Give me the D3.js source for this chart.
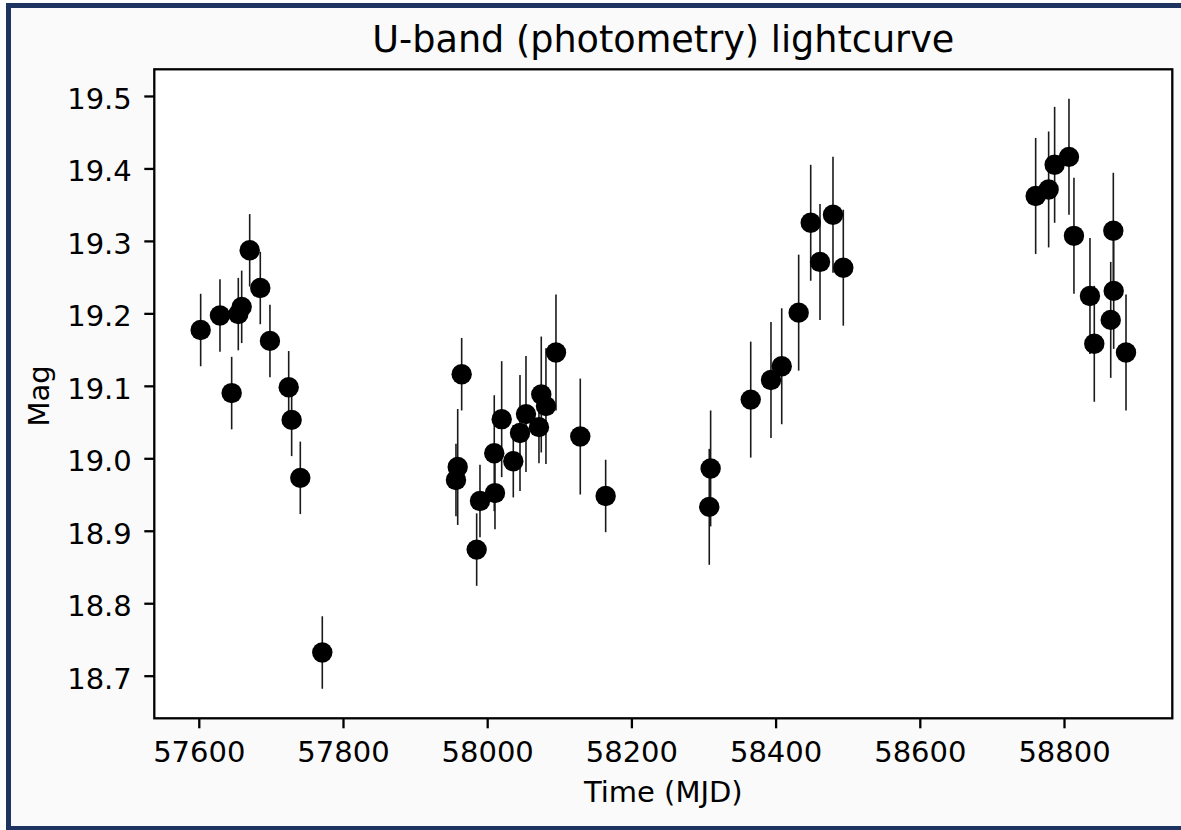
<!DOCTYPE html>
<html>
<head>
<meta charset="utf-8">
<script src="https://cdn.jsdelivr.net/npm/d3@7"></script>
<style>
  html, body { margin: 0; padding: 0; background: #ffffff; overflow: hidden; }
  svg { display: block; }
  text { font-family: "DejaVu Sans", sans-serif; fill: #000; }
</style>
</head>
<body>
<svg id="chart" width="1181" height="830"></svg>
<script>
// U-band photometry: epoch (MJD), magnitude and 1-sigma uncertainty
const mjd = [
  57602.6, 57629.4, 57645.6, 57654.8, 57659.5, 57670.6, 57685.3, 57698.7,
  57724.7, 57728.8, 57740.8, 57771.3,
  57956.7, 57959.1, 57964.6, 57985.4, 57990.0, 58009.8, 58010.8, 58020.1,
  58036.2, 58045.5, 58053.8, 58071.8, 58075.0, 58081.5, 58095.4, 58129.1,
  58164.3,
  58308.0, 58309.9, 58365.5, 58393.6, 58408.5, 58432.0, 58448.7, 58461.6,
  58479.6, 58493.9,
  58760.7, 58778.7, 58787.0, 58806.9, 58813.8, 58836.0, 58842.0, 58864.8,
  58868.4, 58868.9, 58886.0
];
const mag = [
  19.177, 19.197, 19.090, 19.199, 19.209, 19.287, 19.235, 19.162,
  19.098, 19.053, 18.973, 18.732,
  18.970, 18.988, 19.116, 18.874, 18.941, 19.007, 18.952, 19.054,
  18.996, 19.035, 19.061, 19.043, 19.088, 19.072, 19.146, 19.030,
  18.948,
  18.933, 18.986, 19.081, 19.108, 19.127, 19.201, 19.325, 19.271,
  19.336, 19.263,
  19.362, 19.371, 19.405, 19.416, 19.307, 19.224, 19.158, 19.191,
  19.314, 19.231, 19.146
];
const magErr = [
  0.05, 0.05, 0.05, 0.05, 0.05, 0.05, 0.05, 0.05,
  0.05, 0.05, 0.05, 0.05,
  0.05, 0.08, 0.05, 0.05, 0.05, 0.08, 0.05, 0.08,
  0.05, 0.08, 0.08, 0.05, 0.08, 0.08, 0.08, 0.08,
  0.05,
  0.08, 0.08, 0.08, 0.08, 0.08, 0.08, 0.08, 0.08,
  0.08, 0.08,
  0.08, 0.08, 0.08, 0.08, 0.08, 0.08, 0.08, 0.08,
  0.08, 0.08, 0.08
];
const xTicks = [57600, 57800, 58000, 58200, 58400, 58600, 58800];
const yTicks = [18.7, 18.8, 18.9, 19.0, 19.1, 19.2, 19.3, 19.4, 19.5];
const titleText = "U-band (photometry) lightcurve";
const xLabel = "Time (MJD)";
const yLabel = "Mag";

const points = mjd.map((t, i) => ({ t, m: mag[i], e: magErr[i] }));

const svg = d3.select("#chart");
const W = 1181, H = 830;
const plot = { left: 154.3, right: 1172.3, top: 69.3, bottom: 718.3 };

// figure background and navy frame (its right edge runs past the canvas)
svg.append("rect").attr("x", 0).attr("y", 0).attr("width", W).attr("height", H)
  .attr("fill", "#ffffff");
svg.append("rect").attr("x", 8.5).attr("y", 5.5).attr("width", 1230).attr("height", 823)
  .attr("fill", "#fafafa").attr("stroke", "#1d3461").attr("stroke-width", 5);

const x = d3.scaleLinear().domain([57538.3, 58950.2]).range([plot.left, plot.right]);
const y = d3.scaleLinear().domain([18.6412, 19.5368]).range([plot.bottom, plot.top]);

// axes face
svg.append("rect")
  .attr("x", plot.left).attr("y", plot.top)
  .attr("width", plot.right - plot.left).attr("height", plot.bottom - plot.top)
  .attr("fill", "#ffffff");

// error bars under the markers
svg.append("g").selectAll("line").data(points).join("line")
  .attr("x1", d => x(d.t)).attr("x2", d => x(d.t))
  .attr("y1", d => y(d.m - d.e)).attr("y2", d => y(d.m + d.e))
  .attr("stroke", "#1a1a1a").attr("stroke-width", 1.6);

svg.append("g").selectAll("circle").data(points).join("circle")
  .attr("cx", d => x(d.t)).attr("cy", d => y(d.m))
  .attr("r", 10.2).attr("fill", "#000");

// axes
const xAxis = svg.append("g").attr("transform", `translate(0,${plot.bottom})`)
  .call(d3.axisBottom(x).tickValues(xTicks).tickFormat(d3.format("d"))
    .tickSize(10).tickPadding(13).tickSizeOuter(0));
const yAxis = svg.append("g").attr("transform", `translate(${plot.left},0)`)
  .call(d3.axisLeft(y).tickValues(yTicks).tickFormat(d3.format(".1f"))
    .tickSize(10).tickPadding(12.5).tickSizeOuter(0));

[xAxis, yAxis].forEach(g => {
  g.select(".domain").remove();
  g.selectAll(".tick line").attr("stroke", "#000").attr("stroke-width", 2.3);
  g.selectAll(".tick text").attr("font-size", 29)
    .attr("font-family", "DejaVu Sans, sans-serif").attr("fill", "#000");
});
yAxis.selectAll(".tick text").attr("dy", "0.43em");

// spines
svg.append("rect")
  .attr("x", plot.left).attr("y", plot.top)
  .attr("width", plot.right - plot.left).attr("height", plot.bottom - plot.top)
  .attr("fill", "none").attr("stroke", "#000").attr("stroke-width", 2.3);

// titles
svg.append("text").attr("x", (plot.left + plot.right) / 2).attr("y", 51.5)
  .attr("text-anchor", "middle").attr("font-size", 36.6).text(titleText);
svg.append("text").attr("x", (plot.left + plot.right) / 2).attr("y", 802)
  .attr("text-anchor", "middle").attr("font-size", 29).text(xLabel);
svg.append("text").attr("transform", "translate(49,396) rotate(-90)")
  .attr("text-anchor", "middle").attr("font-size", 29).text(yLabel);
</script>
</body>
</html>
